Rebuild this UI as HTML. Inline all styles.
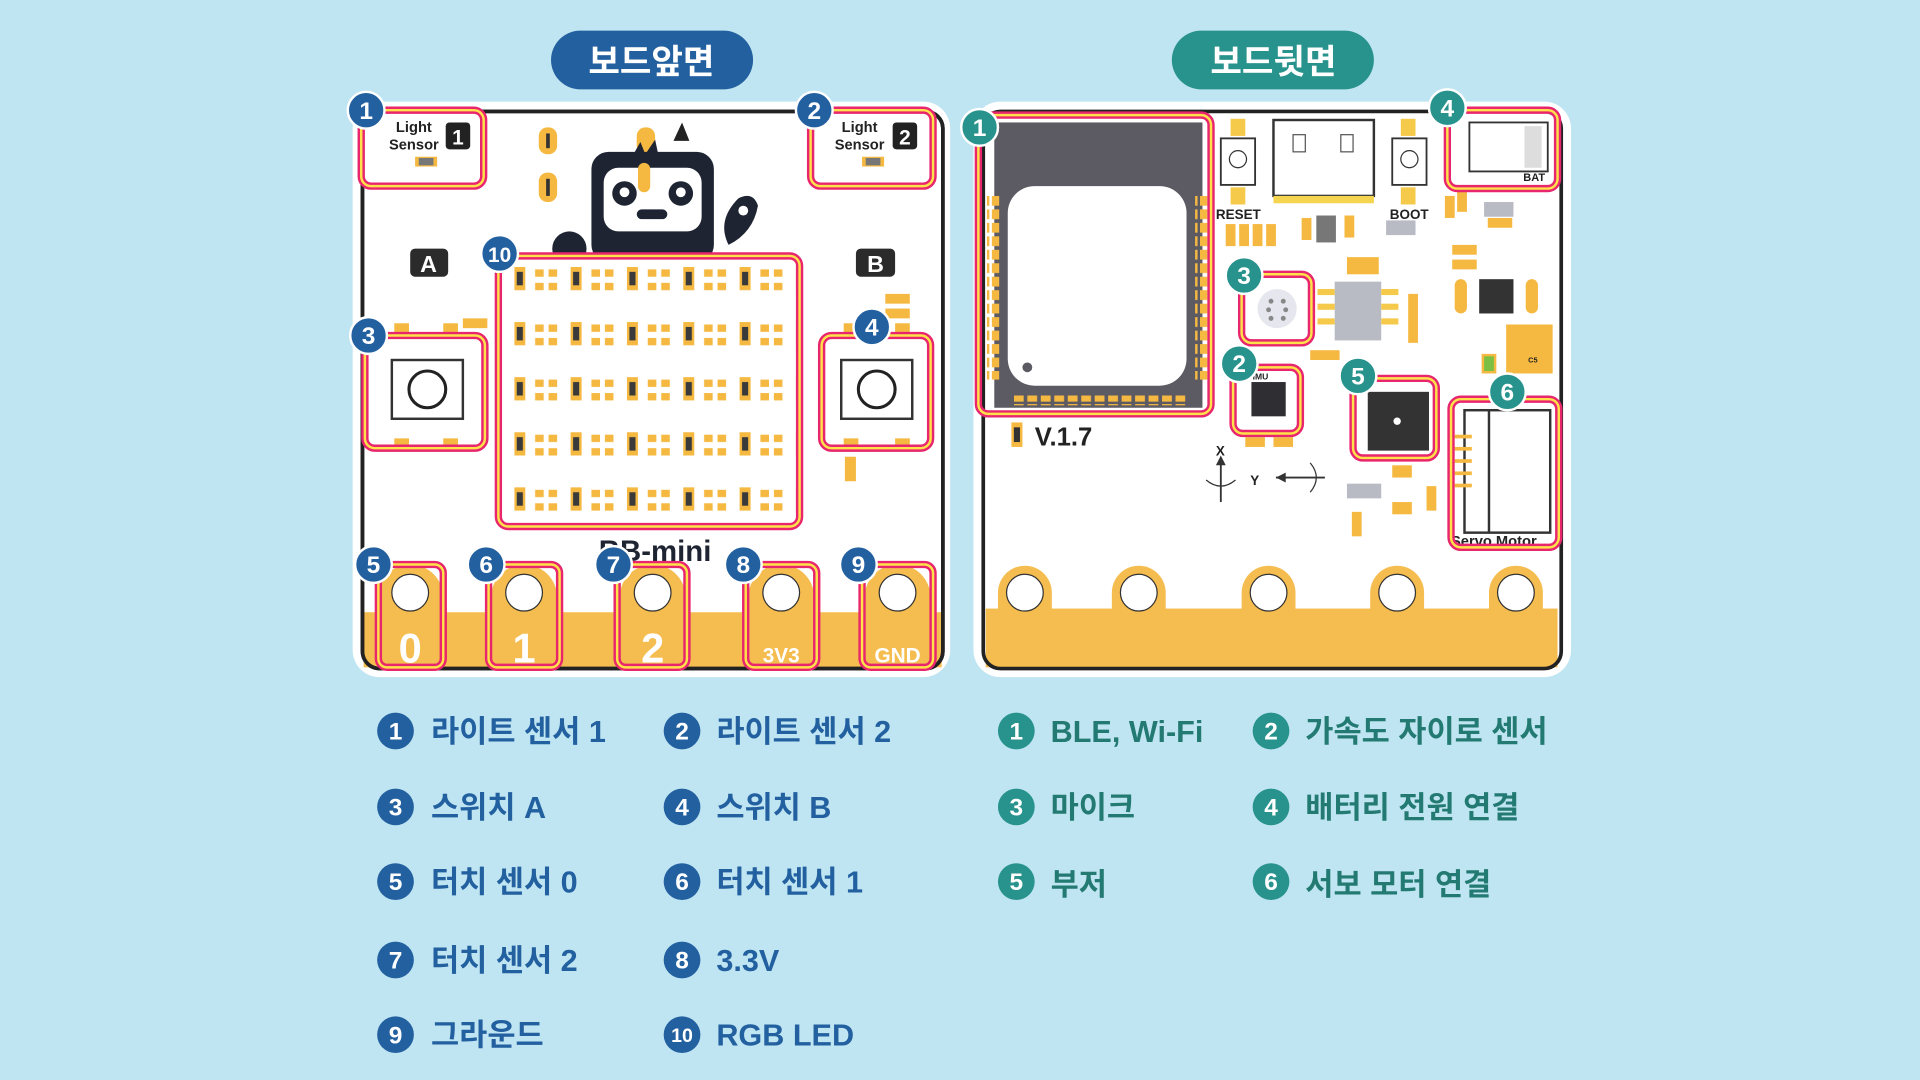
<!DOCTYPE html>
<html><head><meta charset="utf-8"><style>
html,body{margin:0;padding:0;background:#bfe5f2;}
svg{display:block}
.k{font-family:"Liberation Sans","Noto Sans CJK KR",sans-serif;font-weight:700}
</style></head><body>
<svg width="1920" height="1080" viewBox="0 0 1568 882" xmlns="http://www.w3.org/2000/svg">
<defs>
<pattern id="led" x="420" y="218" width="46" height="45" patternUnits="userSpaceOnUse">
<rect x="0" y="0" width="9" height="19" fill="#f5b942"/><rect x="2" y="4" width="5" height="11" fill="#3a3a3a"/>
<rect x="17" y="2" width="7" height="6" fill="#f5b942"/><rect x="28" y="2" width="7" height="6" fill="#f5b942"/>
<rect x="17" y="13" width="7" height="6" fill="#f5b942"/><rect x="28" y="13" width="7" height="6" fill="#f5b942"/>
</pattern>
<pattern id="pinv" x="0" y="160" width="10" height="11" patternUnits="userSpaceOnUse"><rect x="0" y="0" width="8" height="8" fill="#f5b942"/></pattern>
<pattern id="pinh" x="828" y="0" width="11" height="10" patternUnits="userSpaceOnUse"><rect x="0" y="0" width="8" height="8" fill="#f5b942"/></pattern>
</defs>
<rect width="1568" height="882" fill="#bfe5f2"/>

<!-- titles -->
<rect x="450" y="25" width="165" height="48" rx="24" fill="#2360a0"/>
<text x="532" y="60" text-anchor="middle" class="k" font-size="28" fill="#fff">보드앞면</text>
<rect x="957" y="25" width="165" height="48" rx="24" fill="#28928c"/>
<text x="1040" y="60" text-anchor="middle" class="k" font-size="28" fill="#fff">보드뒷면</text>

<!-- LEFT BOARD -->
<rect x="288" y="83" width="488" height="470" rx="22" fill="#fff"/>
<rect x="297" y="500" width="472" height="45" fill="#f5bd4f"/>
<rect x="296" y="91" width="474" height="455" rx="14" fill="none" stroke="#222" stroke-width="3"/>
<!-- light sensors -->
<text x="338" y="108" text-anchor="middle" class="k" font-size="12" fill="#222">Light</text>
<text x="338" y="122" text-anchor="middle" class="k" font-size="12" fill="#222">Sensor</text>
<rect x="364" y="100" width="20" height="22" rx="3" fill="#222"/><text x="374" y="118" text-anchor="middle" class="k" font-size="17" fill="#fff">1</text>
<rect x="339" y="128" width="18" height="8" fill="#f5b942"/><rect x="342" y="129" width="12" height="6" fill="#777"/>
<text x="702" y="108" text-anchor="middle" class="k" font-size="12" fill="#222">Light</text>
<text x="702" y="122" text-anchor="middle" class="k" font-size="12" fill="#222">Sensor</text>
<rect x="729" y="100" width="20" height="22" rx="3" fill="#222"/><text x="739" y="118" text-anchor="middle" class="k" font-size="17" fill="#fff">2</text>
<rect x="704" y="128" width="18" height="8" fill="#f5b942"/><rect x="707" y="129" width="12" height="6" fill="#777"/>
<!-- gold ovals -->
<rect x="440" y="104" width="15" height="22" rx="7" fill="#f5b942"/><rect x="446" y="109" width="3" height="12" fill="#333"/>
<rect x="440" y="141" width="15" height="24" rx="7" fill="#f5b942"/><rect x="446" y="146" width="3" height="14" fill="#333"/>
<rect x="520" y="104" width="15" height="22" rx="7" fill="#f5b942"/>
<!-- robot -->
<polygon points="550,115 557,100 563,115" fill="#222"/>
<path d="M515 130 l8 -14 l4 10 l8 -12 l3 14 z" fill="#1e2432"/>
<rect x="483" y="124" width="100" height="90" rx="14" fill="#1e2432"/>
<rect x="493" y="137" width="80" height="52" rx="12" fill="#fff"/>
<circle cx="510" cy="158" r="10" fill="#1e2432"/><circle cx="510" cy="157" r="4" fill="#fff"/>
<circle cx="556" cy="158" r="10" fill="#1e2432"/><circle cx="556" cy="157" r="4" fill="#fff"/>
<rect x="520" y="171" width="25" height="8" rx="4" fill="#1e2432"/>
<rect x="521" y="133" width="10" height="24" rx="5" fill="#f5b942"/>
<circle cx="465" cy="203" r="14" fill="#1e2432"/>
<path d="M595 200 q-10 -20 8 -38 q12 -6 16 6 q-4 22 -24 32z" fill="#1e2432"/><circle cx="607" cy="172" r="4" fill="#fff"/>
<!-- A B -->
<rect x="335" y="203" width="31" height="23" rx="4" fill="#2b2b2b"/><text x="350" y="222" text-anchor="middle" class="k" font-size="19" fill="#fff">A</text>
<rect x="699" y="203" width="32" height="23" rx="4" fill="#2b2b2b"/><text x="715" y="222" text-anchor="middle" class="k" font-size="19" fill="#fff">B</text>
<!-- LED matrix -->
<rect x="407" y="210" width="246" height="220" fill="#fff"/>
<rect x="420" y="218" width="230" height="205" fill="url(#led)"/>
<!-- switches -->
<g fill="#f5b942"><rect x="322" y="264" width="12" height="8"/><rect x="362" y="264" width="12" height="8"/><rect x="322" y="358" width="12" height="8"/><rect x="362" y="358" width="12" height="8"/>
<rect x="689" y="264" width="12" height="8"/><rect x="731" y="264" width="12" height="8"/><rect x="689" y="358" width="12" height="8"/><rect x="731" y="358" width="12" height="8"/>
<rect x="378" y="260" width="20" height="8"/><rect x="723" y="240" width="20" height="8"/><rect x="723" y="252" width="20" height="8"/><rect x="690" y="373" width="9" height="20"/></g>
<rect x="320" y="294" width="58" height="48" fill="#fff" stroke="#333" stroke-width="2"/><circle cx="349" cy="318" r="15" fill="none" stroke="#222" stroke-width="2.5"/>
<rect x="687" y="294" width="58" height="48" fill="#fff" stroke="#333" stroke-width="2"/><circle cx="716" cy="318" r="15" fill="none" stroke="#222" stroke-width="2.5"/>
<text x="535" y="458" text-anchor="middle" class="k" font-size="24" fill="#1e2432">BB-mini</text>
<!-- pads -->
<g fill="#f5bd4f">
<rect x="308" y="461" width="54" height="85" rx="27"/><rect x="401" y="461" width="54" height="85" rx="27"/><rect x="506" y="461" width="54" height="85" rx="27"/><rect x="611" y="461" width="54" height="85" rx="27"/><rect x="706" y="461" width="54" height="85" rx="27"/>
</g>
<g fill="#fff" stroke="#333" stroke-width="1"><circle cx="335" cy="484" r="15"/><circle cx="428" cy="484" r="15"/><circle cx="533" cy="484" r="15"/><circle cx="638" cy="484" r="15"/><circle cx="733" cy="484" r="15"/></g>
<g class="k" fill="#fff" text-anchor="middle"><text x="335" y="541" font-size="34">0</text><text x="428" y="541" font-size="34">1</text><text x="533" y="541" font-size="34">2</text><text x="638" y="541" font-size="17">3V3</text><text x="733" y="541" font-size="17">GND</text></g>
<rect x="296" y="91" width="474" height="455" rx="14" fill="none" stroke="#222" stroke-width="3"/>

<!-- RIGHT BOARD -->
<rect x="795" y="83" width="488" height="470" rx="22" fill="#fff"/>
<rect x="805" y="497" width="467" height="48" fill="#f5bd4f"/>
<rect x="812" y="100" width="170" height="233" fill="#5c5a63"/>
<rect x="823" y="152" width="146" height="163" rx="22" fill="#fff"/>
<circle cx="839" cy="300" r="4" fill="#5c5a63"/>
<rect x="806" y="160" width="10" height="150" fill="url(#pinv)"/><rect x="976" y="160" width="10" height="150" fill="url(#pinv)"/>
<rect x="828" y="323" width="140" height="8" fill="url(#pinh)"/>
<rect x="826" y="345" width="9" height="20" fill="#f5b942"/><rect x="828" y="349" width="5" height="12" fill="#333"/>
<text x="845" y="364" class="k" font-size="21" fill="#222">V.1.7</text>
<!-- usb & buttons -->
<rect x="1040" y="98" width="82" height="62" fill="#fff" stroke="#333" stroke-width="2"/><rect x="1056" y="110" width="10" height="14" fill="none" stroke="#555"/><rect x="1095" y="110" width="10" height="14" fill="none" stroke="#555"/>
<rect x="1040" y="160" width="82" height="6" fill="#f5d450"/>
<rect x="997" y="113" width="28" height="38" fill="#fff" stroke="#333" stroke-width="1.5"/><circle cx="1011" cy="130" r="7" fill="none" stroke="#333"/>
<rect x="1137" y="113" width="28" height="38" fill="#fff" stroke="#333" stroke-width="1.5"/><circle cx="1151" cy="130" r="7" fill="none" stroke="#333"/>
<rect x="1005" y="97" width="12" height="14" fill="#f5c94a"/><rect x="1005" y="153" width="12" height="14" fill="#f5c94a"/><rect x="1144" y="97" width="12" height="14" fill="#f5c94a"/><rect x="1144" y="153" width="12" height="14" fill="#f5c94a"/>
<text x="993" y="179" class="k" font-size="11" fill="#222">RESET</text><text x="1135" y="179" class="k" font-size="11" fill="#222">BOOT</text>
<g fill="#f5b942"><rect x="1001" y="183" width="8" height="18"/><rect x="1012" y="183" width="8" height="18"/><rect x="1023" y="183" width="8" height="18"/><rect x="1034" y="183" width="8" height="18"/><rect x="1063" y="178" width="8" height="18"/><rect x="1098" y="176" width="8" height="18"/><rect x="1180" y="160" width="8" height="18"/><rect x="1190" y="155" width="8" height="18"/><rect x="1186" y="200" width="20" height="8"/><rect x="1186" y="212" width="20" height="8"/><rect x="1150" y="240" width="8" height="40"/><rect x="1100" y="210" width="26" height="14"/><rect x="1215" y="178" width="20" height="8"/><rect x="1070" y="286" width="24" height="8"/><rect x="1040" y="357" width="16" height="8"/><rect x="1017" y="357" width="16" height="8"/><rect x="1104" y="418" width="8" height="20"/><rect x="1137" y="380" width="16" height="10"/><rect x="1137" y="410" width="16" height="10"/><rect x="1165" y="397" width="8" height="20"/><rect x="1230" y="265" width="38" height="40"/></g>
<rect x="1132" y="180" width="24" height="12" fill="#b8bac4"/><rect x="1212" y="165" width="24" height="12" fill="#b8bac4"/>
<rect x="1075" y="176" width="16" height="22" fill="#777"/>
<!-- chips -->
<rect x="1090" y="230" width="38" height="48" fill="#b8bac4"/>
<g fill="#f5c94a"><rect x="1076" y="236" width="14" height="5"/><rect x="1076" y="248" width="14" height="5"/><rect x="1076" y="260" width="14" height="5"/><rect x="1128" y="236" width="14" height="5"/><rect x="1128" y="248" width="14" height="5"/><rect x="1128" y="260" width="14" height="5"/></g>
<rect x="1208" y="228" width="28" height="28" fill="#333"/>
<rect x="1188" y="228" width="10" height="28" rx="5" fill="#f5b942"/><rect x="1246" y="228" width="10" height="28" rx="5" fill="#f5b942"/>
<rect x="1211" y="290" width="10" height="14" fill="#7bc043" stroke="#f5b942" stroke-width="2"/>
<text x="1248" y="296" class="k" font-size="6" fill="#222">C5</text>
<!-- mic -->
<circle cx="1043" cy="252" r="16" fill="#e6e6ee"/>
<g fill="#888"><circle cx="1038" cy="246" r="2"/><circle cx="1048" cy="246" r="2"/><circle cx="1036" cy="253" r="2"/><circle cx="1050" cy="253" r="2"/><circle cx="1038" cy="260" r="2"/><circle cx="1048" cy="260" r="2"/></g>
<!-- IMU -->
<rect x="1022" y="312" width="28" height="28" fill="#2f2f33"/><text x="1023" y="310" class="k" font-size="7" fill="#222">IMU</text>
<!-- buzzer -->
<rect x="1117" y="320" width="50" height="48" fill="#333"/><circle cx="1141" cy="344" r="3" fill="#fff"/>
<!-- axes -->
<text x="993" y="372" class="k" font-size="11" fill="#222">X</text>
<line x1="997" y1="374" x2="997" y2="410" stroke="#333" stroke-width="1.5"/><polygon points="993,380 997,372 1001,380" fill="#333"/>
<path d="M985 392 q12 10 24 0" fill="none" stroke="#333"/>
<text x="1021" y="396" class="k" font-size="11" fill="#222">Y</text>
<line x1="1042" y1="390" x2="1082" y2="390" stroke="#333" stroke-width="1.5"/><polygon points="1042,390 1050,386 1050,394" fill="#333"/>
<path d="M1070 378 q10 12 0 24" fill="none" stroke="#333"/>
<rect x="1100" y="395" width="28" height="12" fill="#b8bac4"/>
<!-- battery -->
<rect x="1200" y="100" width="64" height="40" fill="#fff" stroke="#333" stroke-width="1.5"/><rect x="1245" y="103" width="14" height="34" fill="#ddd"/>
<text x="1244" y="148" class="k" font-size="9" fill="#222">BAT</text>
<!-- servo -->
<rect x="1196" y="335" width="70" height="100" fill="#fff" stroke="#333" stroke-width="2"/><line x1="1216" y1="335" x2="1216" y2="435" stroke="#333" stroke-width="2"/>
<g fill="#f5b942"><rect x="1188" y="355" width="14" height="3"/><rect x="1188" y="365" width="14" height="3"/><rect x="1188" y="375" width="14" height="3"/><rect x="1188" y="385" width="14" height="3"/><rect x="1188" y="395" width="14" height="3"/></g>
<text x="1185" y="446" class="k" font-size="12" fill="#222">Servo Motor</text>
<!-- back pads -->
<g fill="#f5bd4f"><rect x="815" y="462" width="44" height="84" rx="22"/><rect x="908" y="462" width="44" height="84" rx="22"/><rect x="1014" y="462" width="44" height="84" rx="22"/><rect x="1119" y="462" width="44" height="84" rx="22"/><rect x="1216" y="462" width="44" height="84" rx="22"/></g>
<g fill="#fff" stroke="#333" stroke-width="1"><circle cx="837" cy="484" r="15"/><circle cx="930" cy="484" r="15"/><circle cx="1036" cy="484" r="15"/><circle cx="1141" cy="484" r="15"/><circle cx="1238" cy="484" r="15"/></g>
<rect x="803" y="91" width="472" height="455" rx="14" fill="none" stroke="#222" stroke-width="3"/>

<!-- pink highlight boxes -->
<g fill="none" stroke="#e8266e" stroke-width="6">
<rect x="295" y="90" width="100" height="62" rx="8"/><rect x="662" y="90" width="100" height="62" rx="8"/>
<rect x="298" y="274" width="98" height="92" rx="8"/><rect x="671" y="274" width="89" height="92" rx="8"/>
<rect x="407" y="209" width="246" height="221" rx="8"/>
<rect x="309" y="461" width="53" height="84" rx="7"/><rect x="399" y="461" width="58" height="84" rx="7"/><rect x="504" y="461" width="57" height="84" rx="7"/><rect x="609" y="461" width="58" height="84" rx="7"/><rect x="704" y="461" width="58" height="84" rx="7"/>
<rect x="799" y="94" width="190" height="244" rx="8"/><rect x="1182" y="90" width="90" height="64" rx="8"/>
<rect x="1014" y="224" width="57" height="56" rx="8"/><rect x="1007" y="300" width="55" height="54" rx="8"/>
<rect x="1105" y="309" width="68" height="65" rx="8"/><rect x="1185" y="326" width="88" height="121" rx="8"/>
</g>
<g fill="none" stroke="#ffe24a" stroke-width="2">
<rect x="295" y="90" width="100" height="62" rx="8"/><rect x="662" y="90" width="100" height="62" rx="8"/>
<rect x="298" y="274" width="98" height="92" rx="8"/><rect x="671" y="274" width="89" height="92" rx="8"/>
<rect x="407" y="209" width="246" height="221" rx="8"/>
<rect x="309" y="461" width="53" height="84" rx="7"/><rect x="399" y="461" width="58" height="84" rx="7"/><rect x="504" y="461" width="57" height="84" rx="7"/><rect x="609" y="461" width="58" height="84" rx="7"/><rect x="704" y="461" width="58" height="84" rx="7"/>
<rect x="799" y="94" width="190" height="244" rx="8"/><rect x="1182" y="90" width="90" height="64" rx="8"/>
<rect x="1014" y="224" width="57" height="56" rx="8"/><rect x="1007" y="300" width="55" height="54" rx="8"/>
<rect x="1105" y="309" width="68" height="65" rx="8"/><rect x="1185" y="326" width="88" height="121" rx="8"/>
</g>

<!-- badges on boards -->
<g stroke="#fff" stroke-width="2" fill="#2360a0">
<circle cx="299" cy="90" r="15"/><circle cx="665" cy="90" r="15"/><circle cx="301" cy="274" r="15"/><circle cx="712" cy="267" r="15"/><circle cx="408" cy="207" r="15"/>
<circle cx="305" cy="461" r="15"/><circle cx="397" cy="461" r="15"/><circle cx="501" cy="461" r="15"/><circle cx="607" cy="461" r="15"/><circle cx="701" cy="461" r="15"/>
</g>
<g stroke="#fff" stroke-width="2" fill="#28928c">
<circle cx="800" cy="104" r="15"/><circle cx="1012" cy="297" r="15"/><circle cx="1016" cy="225" r="15"/><circle cx="1182" cy="88" r="15"/><circle cx="1109" cy="307" r="15"/><circle cx="1231" cy="320" r="15"/>
</g>
<g class="k" font-size="20" fill="#fff" text-anchor="middle">
<text x="299" y="97">1</text><text x="665" y="97">2</text><text x="301" y="281">3</text><text x="712" y="274">4</text><text x="408" y="214" font-size="17">10</text>
<text x="305" y="468">5</text><text x="397" y="468">6</text><text x="501" y="468">7</text><text x="607" y="468">8</text><text x="701" y="468">9</text>
<text x="800" y="111">1</text><text x="1012" y="304">2</text><text x="1016" y="232">3</text><text x="1182" y="95">4</text><text x="1109" y="314">5</text><text x="1231" y="327">6</text>
</g>

<!-- legend -->
<g fill="#2360a0"><circle cx="323" cy="597" r="15"/><circle cx="323" cy="659" r="15"/><circle cx="323" cy="720" r="15"/><circle cx="323" cy="784" r="15"/><circle cx="323" cy="845" r="15"/>
<circle cx="557" cy="597" r="15"/><circle cx="557" cy="659" r="15"/><circle cx="557" cy="720" r="15"/><circle cx="557" cy="784" r="15"/><circle cx="557" cy="845" r="15"/></g>
<g fill="#28928c"><circle cx="830" cy="597" r="15"/><circle cx="830" cy="659" r="15"/><circle cx="830" cy="720" r="15"/><circle cx="1038" cy="597" r="15"/><circle cx="1038" cy="659" r="15"/><circle cx="1038" cy="720" r="15"/></g>
<g class="k" font-size="20" fill="#fff" text-anchor="middle">
<text x="323" y="604">1</text><text x="323" y="666">3</text><text x="323" y="727">5</text><text x="323" y="791">7</text><text x="323" y="852">9</text>
<text x="557" y="604">2</text><text x="557" y="666">4</text><text x="557" y="727">6</text><text x="557" y="791">8</text><text x="557" y="851" font-size="16">10</text>
<text x="830" y="604">1</text><text x="830" y="666">3</text><text x="830" y="727">5</text><text x="1038" y="604">2</text><text x="1038" y="666">4</text><text x="1038" y="727">6</text>
</g>
<g class="k" font-size="25" fill="#2360a0">
<text x="352" y="606">라이트 센서 1</text><text x="352" y="668">스위치 A</text><text x="352" y="729">터치 센서 0</text><text x="352" y="793">터치 센서 2</text><text x="352" y="854">그라운드</text>
<text x="585" y="606">라이트 센서 2</text><text x="585" y="668">스위치 B</text><text x="585" y="729">터치 센서 1</text><text x="585" y="793">3.3V</text><text x="585" y="854">RGB LED</text>
</g>
<g class="k" font-size="25" fill="#237a72">
<text x="858" y="606">BLE, Wi-Fi</text><text x="858" y="668">마이크</text><text x="858" y="731">부저</text>
<text x="1066" y="606">가속도 자이로 센서</text><text x="1066" y="668">배터리 전원 연결</text><text x="1066" y="731">서보 모터 연결</text>
</g>
</svg>
</body></html>
